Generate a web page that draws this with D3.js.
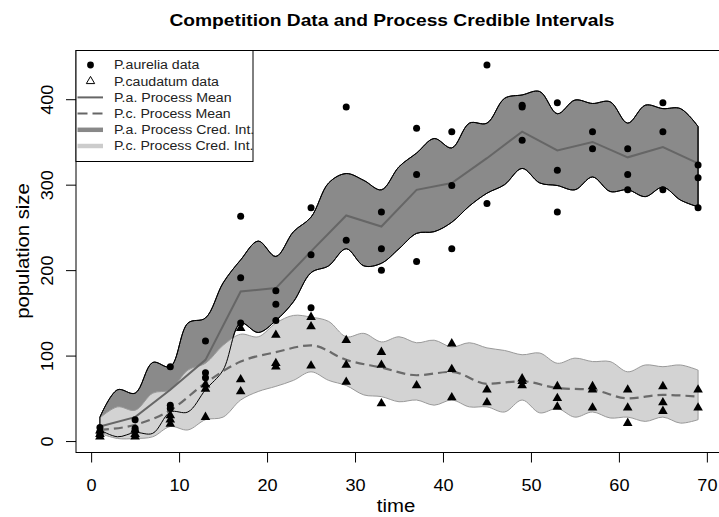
<!DOCTYPE html>
<html>
<head>
<meta charset="utf-8">
<script src="https://cdn.jsdelivr.net/npm/d3@7"></script>
<style>
    body { margin: 0; background: #fff; }
    #chart { width: 719px; height: 517px; }
    text { font-family: "Liberation Sans", Arial, Helvetica, sans-serif; }
</style>
</head>
<body>
<div id="chart"></div>
<script>
// observation times and the finer grid used for the credible bands
const obsTime = [1, 5, 9, 13, 17, 21, 25, 29, 33, 37, 41, 45, 49, 53, 57, 61, 65, 69];
const bandTime = [1, 3, 5, 7, 9, 11, 13, 15, 17, 19, 21, 23, 25, 27, 29, 31, 33, 35,
    37, 39, 41, 43, 45, 47, 49, 51, 53, 55, 57, 59, 61, 63, 65, 67, 69];

// process means
const paMean = [17, 28, 60, 95, 175, 179, 222, 264, 251, 294, 302, 331, 362, 340, 350, 332, 344, 325];
const pcMean = [13, 19, 36, 68, 93, 104, 112, 95, 86, 77, 81, 67, 70, 62, 60, 50, 54, 52];

// credible interval bounds
const paHi = [28, 60, 56, 92, 87, 138, 144, 185, 212, 234, 216, 245, 262, 302, 313, 305, 294, 321,
    337, 354, 343, 372, 372, 401, 405, 409, 383, 399, 395, 397, 372, 393, 389, 389, 368];
const paLo = [13, 5, 10, 9, 34, 34, 60, 83, 138, 127, 141, 163, 197, 205, 225, 205, 208, 225,
    243, 245, 256, 275, 290, 300, 319, 302, 299, 294, 309, 292, 294, 286, 297, 282, 274];
const pcHi = [27, 40, 36, 56, 60, 83, 91, 112, 125, 122, 138, 147, 145, 140, 122, 126, 116, 122,
    115, 118, 110, 115, 109, 106, 101, 103, 91, 97, 93, 93, 81, 89, 87, 89, 83];
const pcLo = [9, 3, 3, 5, 17, 13, 25, 28, 48, 58, 64, 71, 81, 71, 65, 54, 52, 46,
    48, 42, 48, 40, 40, 34, 48, 33, 38, 28, 34, 27, 28, 23, 28, 21, 25];

// replicate counts [time, count]
const aureliaData = [
    [1, 16], [1, 11], [1, 7], [5, 25], [5, 15], [5, 12], [9, 87], [9, 42], [9, 38],
    [13, 117], [13, 80], [13, 74], [17, 263], [17, 191], [17, 138], [21, 176], [21, 160], [21, 141],
    [25, 273], [25, 218], [25, 156], [29, 391], [29, 235], [33, 268], [33, 225], [33, 200],
    [37, 366], [37, 312], [37, 210], [41, 362], [41, 299], [41, 225], [45, 440], [45, 278],
    [49, 393], [49, 391], [49, 352], [53, 396], [53, 317], [53, 268], [57, 362], [57, 342],
    [61, 342], [61, 312], [61, 294], [65, 396], [65, 362], [65, 294], [69, 323], [69, 308], [69, 273]
];
const caudatumData = [
    [1, 12], [1, 8], [1, 5], [5, 13], [5, 8], [5, 5], [9, 30], [9, 25], [9, 20],
    [13, 66], [13, 61], [13, 28], [17, 132], [17, 72], [17, 58], [21, 124], [21, 91], [21, 87],
    [25, 145], [25, 134], [25, 88], [29, 118], [29, 89], [29, 69], [33, 104], [33, 89], [33, 44],
    [37, 65], [41, 114], [41, 84], [41, 51], [45, 60], [45, 45], [49, 73], [49, 70], [49, 65],
    [53, 64], [53, 50], [53, 40], [57, 64], [57, 60], [57, 39], [61, 60], [61, 39], [61, 21],
    [65, 64], [65, 45], [65, 35], [69, 60], [69, 39]
];

const xTicks = [0, 10, 20, 30, 40, 50, 60, 70];
const yTicks = [0, 100, 200, 300, 400];
const legendLabels = ["P.aurelia data", "P.caudatum data", "P.a. Process Mean",
    "P.c. Process Mean", "P.a. Process Cred. Int.", "P.c. Process Cred. Int."];

// the original device font runs wider than Liberation Sans
const widen = 1.13;
function stretch(sel) {
    sel.each(function() {
        let len = this.getComputedTextLength();
        d3.select(this).attr("textLength", len * widen).attr("lengthAdjust", "spacingAndGlyphs");
    });
}

function drawChart() {
    let div = document.getElementById("chart");
    let divWidth = 719;
    let divHeight = 517;

    let margin = { top: 50.5, bottom: 64.5, left: 76, right: -3 };
    let width = divWidth - margin.left - margin.right;
    let height = divHeight - margin.top - margin.bottom;

    let svg = d3.select(div)
        .append("svg")
        .attr("width", divWidth)
        .attr("height", divHeight);

    svg.append("rect")
        .attr("width", divWidth)
        .attr("height", divHeight)
        .attr("fill", "#fff");

    let g = svg.append("g").attr("transform", `translate(${margin.left},${margin.top})`);

    // scales (R style 4% padding)
    let x = d3.scaleLinear().domain([-1.72, 71.72]).range([0, width]);
    let y = d3.scaleLinear().domain([-13.4, 457]).range([height, 0]);

    let bandPA = bandTime.map((t, i) => ({ t: t, lo: paLo[i], hi: paHi[i] }));
    let bandPC = bandTime.map((t, i) => ({ t: t, lo: pcLo[i], hi: pcHi[i] }));

    let area = d3.area()
        .x(d => x(d.t))
        .y0(d => y(d.lo))
        .y1(d => y(d.hi))
        .curve(d3.curveCatmullRom.alpha(0.5));

    // bands
    g.append("path")
        .attr("d", area(bandPA))
        .attr("fill", "#8a8a8a")
        .attr("stroke", "#000")
        .attr("stroke-width", 1);

    g.append("path")
        .attr("d", area(bandPC))
        .attr("fill", "#d3d3d3")
        .attr("stroke", "#999")
        .attr("stroke-width", 1);

    // dark band border shows through the light band
    g.append("path")
        .attr("d", area(bandPA))
        .attr("fill", "none")
        .attr("stroke", "#000")
        .attr("stroke-width", 1);

    // mean lines
    let meanLine = d3.line().x(d => x(d[0])).y(d => y(d[1]));

    g.append("path")
        .attr("d", meanLine(obsTime.map((t, i) => [t, paMean[i]])))
        .attr("fill", "none")
        .attr("stroke", "#666")
        .attr("stroke-width", 2);

    g.append("path")
        .attr("d", meanLine.curve(d3.curveMonotoneX)(obsTime.map((t, i) => [t, pcMean[i]])))
        .attr("fill", "none")
        .attr("stroke", "#6a6a6a")
        .attr("stroke-width", 2.2)
        .style("stroke-dasharray", "9,5");

    // data points
    g.append("g").selectAll("circle")
        .data(aureliaData)
        .enter().append("circle")
        .attr("cx", d => x(d[0]))
        .attr("cy", d => y(d[1]))
        .attr("r", 3.5)
        .attr("fill", "#000");

    let tri = d3.symbol().type(d3.symbolTriangle).size(40);
    g.append("g").selectAll("path")
        .data(caudatumData)
        .enter().append("path")
        .attr("d", tri)
        .attr("transform", d => `translate(${x(d[0])},${y(d[1])})`)
        .attr("fill", "#000");

    // axes
    let xAxis = d3.axisBottom(x).tickValues(xTicks).tickSize(10).tickSizeOuter(0);
    let gx = g.append("g")
        .attr("transform", `translate(0,${height})`)
        .call(xAxis);
    gx.select(".domain").remove();
    gx.selectAll("text")
        .attr("y", 38)
        .attr("dy", null)
        .attr("fill", "#000")
        .attr("font-size", 16)
        .attr("font-family", null)
        .call(stretch);

    let yAxis = d3.axisLeft(y).tickValues(yTicks).tickSize(10).tickSizeOuter(0);
    let gy = g.append("g").call(yAxis);
    gy.select(".domain").remove();
    gy.selectAll("text")
        .attr("x", 0)
        .attr("y", -23)
        .attr("dy", null)
        .attr("transform", "rotate(-90)")
        .attr("text-anchor", "middle")
        .attr("fill", "#000")
        .attr("font-size", 16)
        .attr("font-family", null)
        .call(stretch);

    // plot box
    g.append("rect")
        .attr("width", width)
        .attr("height", height)
        .attr("fill", "none")
        .attr("stroke", "#000")
        .attr("stroke-width", 1);

    // title and axis labels
    svg.append("text")
        .attr("text-anchor", "middle")
        .attr("x", 392)
        .attr("y", 26)
        .attr("font-weight", "bold")
        .attr("font-size", 17)
        .text("Competition Data and Process Credible Intervals")
        .call(stretch);

    svg.append("text")
        .attr("text-anchor", "middle")
        .attr("x", 396)
        .attr("y", 512)
        .attr("font-size", 18)
        .text("time")
        .call(stretch);

    svg.append("text")
        .attr("text-anchor", "middle")
        .attr("transform", "rotate(-90)")
        .attr("x", -251)
        .attr("y", 29)
        .attr("font-size", 18)
        .text("population size")
        .call(stretch);

    // legend
    let lg = g.append("g");
    lg.append("rect")
        .attr("x", 0)
        .attr("y", 0)
        .attr("width", 177)
        .attr("height", 111)
        .attr("fill", "#fff")
        .attr("stroke", "#000");

    let rowY = i => 14.5 + i * 16.2;
    lg.selectAll(".legend-text")
        .data(legendLabels)
        .enter().append("text")
        .attr("class", "legend-text")
        .attr("x", 38)
        .attr("y", (d, i) => rowY(i) + 4.4)
        .attr("font-size", 12.5)
        .attr("fill", "#222")
        .text(d => d)
        .call(stretch);

    lg.append("circle").attr("cx", 14.5).attr("cy", rowY(0)).attr("r", 3.4).attr("fill", "#000");
    lg.append("path")
        .attr("d", d3.symbol().type(d3.symbolTriangle).size(30))
        .attr("transform", `translate(14.5,${rowY(1)})`)
        .attr("fill", "none")
        .attr("stroke", "#000");

    let legendLines = [
        { stroke: "#666", width: 2, dash: null },
        { stroke: "#666", width: 2, dash: "10,5" },
        { stroke: "#888", width: 4.5, dash: null },
        { stroke: "#ccc", width: 4.5, dash: null }
    ];
    legendLines.forEach((l, i) => {
        lg.append("line")
            .attr("x1", 1.5).attr("x2", 27)
            .attr("y1", rowY(i + 2)).attr("y2", rowY(i + 2))
            .attr("stroke", l.stroke)
            .attr("stroke-width", l.width)
            .style("stroke-dasharray", l.dash);
    });
}

drawChart();
</script>
</body>
</html>
